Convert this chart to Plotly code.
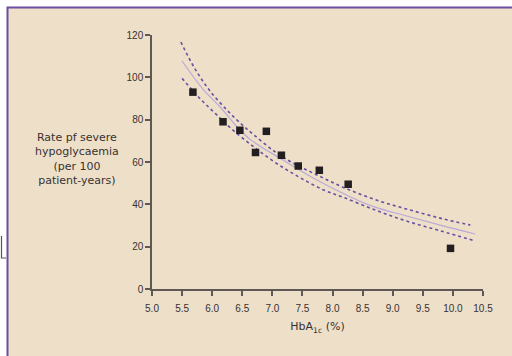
import plotly.graph_objects as go

# Data points (HbA1c %, rate per 100 patient-years)
hba1c = [5.68, 6.18, 6.46, 6.72, 6.90, 7.15, 7.43, 7.78, 8.26, 9.96]
rate = [93.0, 79.0, 75.0, 64.5, 74.5, 63.2, 58.1, 56.1, 49.5, 19.2]

# Fitted curve
fit_x = [5.50, 5.85, 6.13, 6.41, 6.63, 7.18, 7.74, 8.29, 8.68, 9.23, 9.79, 10.37]
fit_y = [107.7, 94.3, 86.1, 76.7, 70.7, 60.9, 51.5, 43.6, 38.9, 34.5, 30.2, 26.0]

# Upper confidence band
up_x = [5.48, 5.70, 5.96, 6.27, 6.52, 6.68, 7.04, 7.35, 7.74, 8.18, 8.73, 9.29, 9.84, 10.29]
up_y = [116.7, 104.7, 93.7, 83.8, 77.0, 73.1, 64.9, 59.4, 53.9, 48.0, 42.0, 37.3, 33.1, 30.2]

# Lower confidence band
lo_x = [5.50, 5.81, 6.06, 6.31, 6.67, 7.04, 7.43, 7.85, 8.18, 8.71, 9.23, 9.79, 10.37]
lo_y = [99.5, 89.6, 82.7, 75.9, 67.6, 59.9, 53.1, 46.8, 43.3, 37.3, 32.1, 27.5, 22.7]

x_ticks = [5.0, 5.5, 6.0, 6.5, 7.0, 7.5, 8.0, 8.5, 9.0, 9.5, 10.0, 10.5]
y_ticks = [0, 20, 40, 60, 80, 100, 120]

W, H = 512, 356
L, R, T, B = 152, 29, 35, 67
pw, ph = W - L - R, H - T - B


def px(x):
    return (x - L) / pw


def py(y):
    return (H - B - y) / ph


axis_col = "#5e5954"
text_col = "#363232"
band_col = "#6a4fa3"
fit_col = "#b9a9d6"

fig = go.Figure()
fig.add_trace(go.Scatter(x=up_x, y=up_y, mode="lines", line_shape="spline",
                         line=dict(color=band_col, width=1.6, dash="3px,3px"),
                         showlegend=False, hoverinfo="skip"))
fig.add_trace(go.Scatter(x=lo_x, y=lo_y, mode="lines", line_shape="spline",
                         line=dict(color=band_col, width=1.6, dash="3px,3px"),
                         showlegend=False, hoverinfo="skip"))
fig.add_trace(go.Scatter(x=fit_x, y=fit_y, mode="lines", line_shape="spline",
                         line=dict(color=fit_col, width=1.2),
                         showlegend=False, hoverinfo="skip"))
fig.add_trace(go.Scatter(x=hba1c, y=rate, mode="markers",
                         marker=dict(symbol="square", size=7.5, color="#231f20"),
                         showlegend=False))

# Background panel with purple border
fig.add_shape(type="rect", xref="paper", yref="paper",
              x0=px(7.5), x1=px(530), y0=py(380), y1=py(7.5),
              fillcolor="#eedfc9", line=dict(color="#6b4f9e", width=2),
              layer="below")
# Small artifact at the left edge
fig.add_shape(type="path", xref="paper", yref="paper",
              path=f"M {px(1.5)} {py(236)} L {px(1.5)} {py(258)} L {px(6)} {py(258)}",
              line=dict(color="#555555", width=1.2))

fig.add_annotation(xref="paper", yref="paper", x=px(77), y=py(159),
                   text="Rate pf severe<br>hypoglycaemia<br>(per 100<br>patient-years)",
                   showarrow=False, align="center", xanchor="center", yanchor="middle",
                   font=dict(family="DejaVu Sans", size=11, color=text_col))

fig.update_layout(
    width=W, height=H,
    margin=dict(l=L, r=R, t=T, b=B, pad=0),
    paper_bgcolor="white", plot_bgcolor="rgba(0,0,0,0)",
    font=dict(family="Liberation Sans", size=10, color=text_col),
    xaxis=dict(range=[5.0, 10.5], tickvals=x_ticks,
               ticktext=[f"{v:.1f}" for v in x_ticks],
               showgrid=False, zeroline=False, showline=True,
               linecolor=axis_col, linewidth=1.5,
               ticks="outside", ticklen=5, tickwidth=1.5, tickcolor=axis_col,
               ticklabelstandoff=4,
               tickfont=dict(family="Liberation Sans", size=10, color=text_col),
               title=dict(text="HbA<sub>1c</sub> (%)", standoff=10,
                          font=dict(family="DejaVu Sans", size=11, color=text_col))),
    yaxis=dict(range=[0, 120], tickvals=y_ticks,
               showgrid=False, zeroline=False, showline=True,
               linecolor=axis_col, linewidth=1.5,
               ticks="outside", ticklen=5, tickwidth=1.5, tickcolor=axis_col,
               tickfont=dict(family="Liberation Sans", size=10, color=text_col)),
)

fig.write_html("out.html", config={"displayModeBar": False},
               post_script="document.body.style.margin='0';document.body.style.overflow='hidden';")
